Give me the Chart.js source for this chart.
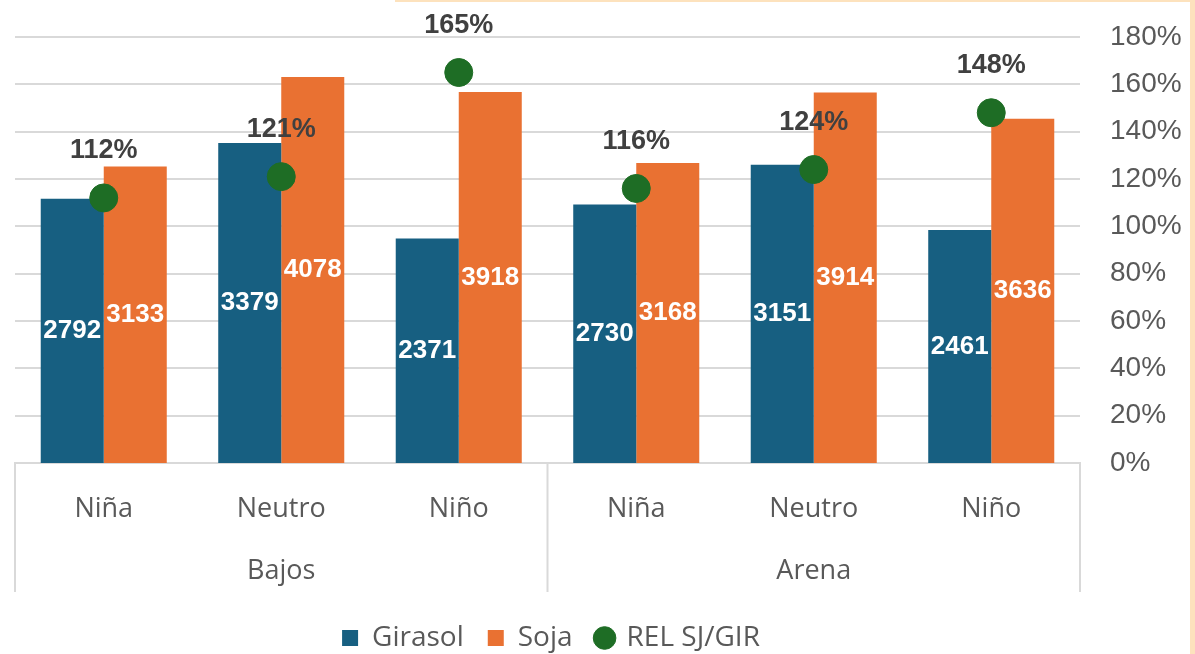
<!DOCTYPE html>
<html>
<head>
<meta charset="utf-8">
<script src="https://cdn.jsdelivr.net/npm/chart.js@4"></script>
<style>
  html, body { margin: 0; padding: 0; background: #fff; }
  #wrap { position: relative; width: 1195px; height: 654px; overflow: hidden; }
  #chart { position: absolute; left: 0; top: 0; }
  .edge { position: absolute; background: #fde2bd; }
</style>
</head>
<body>
<div id="wrap">
  <canvas id="chart" width="1190" height="654"></canvas>
  <div class="edge" style="left:395px; top:0; width:800px; height:2px;"></div>
  <div class="edge" style="left:1190px; top:0; width:5px; height:654px;"></div>
</div>
<script>
// === Data ===
const categories = ['Niña', 'Neutro', 'Niño', 'Niña', 'Neutro', 'Niño'];
const groups = ['Bajos', 'Arena'];
const girasol = [2792, 3379, 2371, 2730, 3151, 2461];
const soja = [3133, 4078, 3918, 3168, 3914, 3636];
const relSjGir = [1.12, 1.21, 1.65, 1.16, 1.24, 1.48];

const GRID = '#d9d9d9';
const TEXT = '#595959';

// === Labels on bars and points, group axis row ===
const labelsPlugin = {
    id: 'labelsPlugin',
    afterLayout(chart) {
        // legend sits a bit left and low in the original
        const lg = chart.legend;
        lg.left -= 50; lg.right -= 50;
        lg.top += 8; lg.bottom += 8;
    },
    afterDatasetsDraw(chart) {
        const ctx = chart.ctx;
        ctx.save();
        ctx.textAlign = 'center';
        ctx.textBaseline = 'middle';

        // values inside the bars
        ctx.font = 'bold 26px "Liberation Sans", Arial, sans-serif';
        ctx.fillStyle = '#ffffff';
        [0, 1].forEach(di => {
            chart.getDatasetMeta(di).data.forEach((bar, i) => {
                const v = chart.data.datasets[di].data[i];
                ctx.fillText(String(v), bar.x, (bar.y + bar.base) / 2);
            });
        });

        // percentages above the points
        ctx.font = 'bold 27px "Liberation Sans", Arial, sans-serif';
        ctx.fillStyle = '#404040';
        chart.getDatasetMeta(2).data.forEach((pt, i) => {
            const v = Math.round(chart.data.datasets[2].data[i] * 100);
            ctx.fillText(v + '%', pt.x, pt.y - 47);
        });
        ctx.restore();
    },
    afterDraw(chart) {
        const ctx = chart.ctx;
        const x = chart.scales.x;
        const area = chart.chartArea;
        const half = (x.getPixelForValue(1) - x.getPixelForValue(0)) / 2;
        const seps = [x.getPixelForValue(0) - half, x.getPixelForValue(2) + half, x.getPixelForValue(5) + half];

        ctx.save();
        ctx.strokeStyle = GRID;
        ctx.lineWidth = 2;
        seps.forEach(px => {
            ctx.beginPath();
            ctx.moveTo(px, area.bottom);
            ctx.lineTo(px, x.bottom);
            ctx.stroke();
        });

        ctx.fillStyle = TEXT;
        ctx.font = '27px "Open Sans", sans-serif';
        ctx.textAlign = 'center';
        ctx.textBaseline = 'middle';
        groups.forEach((g, gi) => {
            ctx.fillText(g, x.getPixelForValue(gi * 3 + 1), area.bottom + 108);
        });
        ctx.restore();
    }
};

const ctx = document.getElementById('chart').getContext('2d');
new Chart(ctx, {
    data: {
        labels: categories,
        datasets: [
            {
                type: 'bar',
                label: 'Girasol',
                data: girasol,
                backgroundColor: '#175f81',
                yAxisID: 'y',
                order: 1,
                pointStyle: 'rect',
                barPercentage: 1,
                categoryPercentage: 0.71,
            },
            {
                type: 'bar',
                label: 'Soja',
                data: soja,
                backgroundColor: '#e97132',
                yAxisID: 'y',
                order: 1,
                pointStyle: 'rect',
                barPercentage: 1,
                categoryPercentage: 0.71,
            },
            {
                type: 'line',
                label: 'REL SJ/GIR',
                data: relSjGir,
                yAxisID: 'y1',
                showLine: false,
                pointStyle: 'circle',
                pointRadius: 14,
                pointHoverRadius: 14,
                pointBackgroundColor: '#1e6d25',
                pointBorderColor: '#1e6d25',
                backgroundColor: '#1e6d25',
                borderColor: '#1e6d25',
                order: 0,
            }
        ]
    },
    options: {
        responsive: false,
        animation: false,
        layout: { padding: { top: 37, left: 12, right: 0, bottom: 0 } },
        plugins: {
            tooltip: { enabled: false },
            legend: {
                position: 'bottom',
                labels: {
                    usePointStyle: true,
                    boxHeight: 16,
                    boxWidth: 16,
                    padding: 24,
                    color: TEXT,
                    font: { family: '"Open Sans", sans-serif', size: 28 },
                    sort: (a, b) => a.datasetIndex - b.datasetIndex,
                }
            }
        },
        scales: {
            x: {
                grid: { display: false },
                border: { display: true, color: GRID, width: 2 },
                ticks: {
                    color: TEXT,
                    padding: 22,
                    font: { family: '"Open Sans", sans-serif', size: 27 },
                },
                afterFit: s => { s.height = 129; }
            },
            y: {
                display: false,
                min: 0,
                max: 4500,
            },
            y1: {
                position: 'right',
                min: 0,
                max: 1.8,
                border: { display: false },
                grid: { color: GRID, lineWidth: 2, drawTicks: true, tickLength: 30, tickColor: 'rgba(0,0,0,0)' },
                ticks: {
                    stepSize: 0.2,
                    padding: 0,
                    color: TEXT,
                    font: { family: '"Liberation Sans", Arial, sans-serif', size: 28 },
                    callback: v => Math.round(v * 100) + '%',
                },
                afterFit: s => { s.width = 110; }
            }
        }
    },
    plugins: [labelsPlugin]
});
</script>
</body>
</html>
